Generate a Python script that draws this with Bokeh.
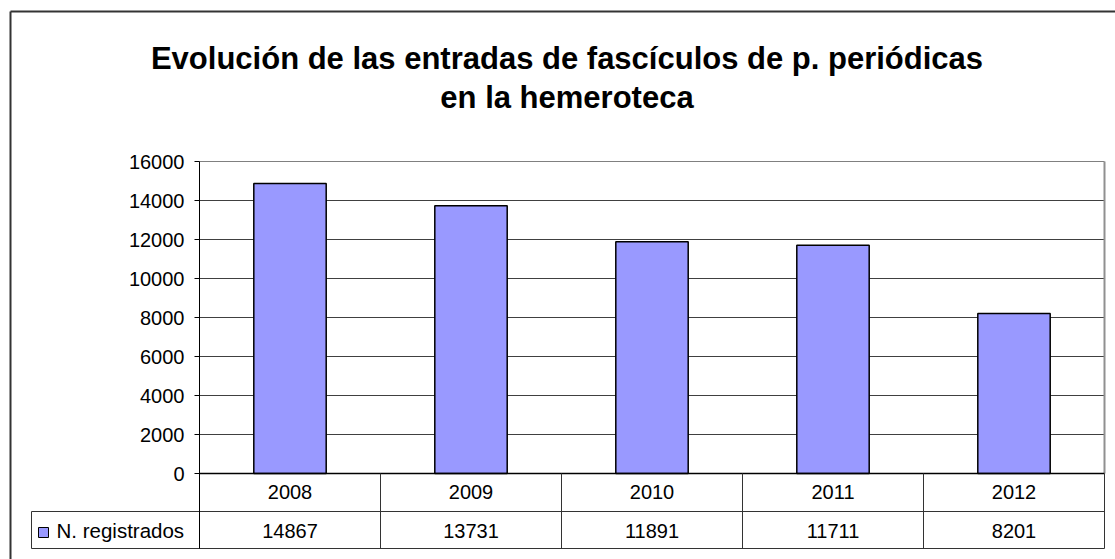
from bokeh.plotting import figure
from bokeh.models import Range1d, LinearAxis, FixedTicker
from bokeh.core.properties import value
from bokeh.embed import file_html
from bokeh.resources import INLINE

# ---- data ----
years = ["2008", "2009", "2010", "2011", "2012"]
registrados = [14867, 13731, 11891, 11711, 8201]
series_name = "N. registrados"
y_ticks = [0, 2000, 4000, 6000, 8000, 10000, 12000, 14000, 16000]
title_lines = ["Evolución de las entradas de fascículos de p. periódicas", "en la hemeroteca"]

# ---- layout constants (page pixels) ----
W, H = 1115, 559
ORIGIN = 0
PLOT_L, PLOT_R = 199, 1104
PLOT_T, ZERO_Y = 161, 473
Y_MAX = 16000
PX_PER_UNIT = (ZERO_Y - PLOT_T) / Y_MAX
CAT_W = (PLOT_R - PLOT_L) / len(years)

def xd(px):
    return (px - PLOT_L) / CAT_W

def yd(py):
    return (ZERO_Y - py) / PX_PER_UNIT

FONT = "Liberation Sans"
BAR_COLOR = "#9999FF"
TXT = "20px"

p = figure(width=W, height=H, output_backend="svg", toolbar_location=None,
           x_range=Range1d(xd(ORIGIN), xd(ORIGIN + W)),
           y_range=Range1d(yd(ORIGIN + H), yd(ORIGIN)),
           x_axis_type=None, y_axis_type=None, min_border=0)
p.outline_line_color = None
p.background_fill_color = "white"
p.border_fill_color = "white"

ncat = len(years)
xs = [i + 0.5 for i in range(ncat)]

# gridlines (excluding 0 and top)
grid_vals = y_ticks[1:-1]
p.segment(x0=[0] * len(grid_vals), x1=[ncat] * len(grid_vals), y0=grid_vals, y1=grid_vals,
          line_color="#404040", line_width=1)
# plot area top and right border
p.segment(x0=[0], x1=[ncat], y0=[Y_MAX], y1=[Y_MAX], line_color="#808080", line_width=1)
p.segment(x0=[ncat], x1=[ncat], y0=[0], y1=[Y_MAX], line_color="#909090", line_width=2)

# bars
p.vbar(x=xs, top=registrados, bottom=0, width=0.4, fill_color=BAR_COLOR,
       line_color="black", line_width=1.5)

# table lines
tb_row = yd(511)
tb_bot = yd(548)
leg_l = xd(31)
p.segment(x0=[0], x1=[ncat], y0=[0], y1=[0], line_color="black", line_width=1.5)
p.segment(x0=[leg_l, leg_l], x1=[ncat, ncat], y0=[tb_row, tb_bot], y1=[tb_row, tb_bot],
          line_color="#333333", line_width=1)
p.segment(x0=list(range(1, ncat + 1)), x1=list(range(1, ncat + 1)),
          y0=[0] * ncat, y1=[tb_bot] * ncat, line_color="#333333", line_width=1)
p.segment(x0=[leg_l], x1=[leg_l], y0=[tb_row], y1=[tb_bot], line_color="#333333", line_width=1)

# table text
p.text(x=xs, y=[yd(491)] * ncat, text=years, text_align="center", text_baseline="middle",
       text_font=value(FONT), text_font_size=TXT, text_color="black")
p.text(x=xs, y=[yd(530)] * ncat, text=[str(v) for v in registrados], text_align="center",
       text_baseline="middle", text_font=value(FONT), text_font_size=TXT, text_color="black")

# legend key in the table
p.quad(left=[xd(38)], right=[xd(48)], top=[yd(527)], bottom=[yd(537)],
       fill_color=BAR_COLOR, line_color="black", line_width=1)
p.text(x=[xd(56)], y=[yd(530)], text=[series_name], text_align="left", text_baseline="middle",
       text_font=value(FONT), text_font_size="20.5px", text_color="black")

# title
p.text(x=[xd(566.5), xd(566.5)], y=[yd(58), yd(97)], text=title_lines, text_align="center",
       text_baseline="alphabetic", text_font=value(FONT), text_font_size="31px",
       text_font_style="bold", text_color="black")

# outer chart border (top and left visible)
p.segment(x0=[xd(10), xd(10)], x1=[xd(ORIGIN + W + 5), xd(10)],
          y0=[yd(11), yd(11)], y1=[yd(11), yd(ORIGIN + H + 5)],
          line_color="#333333", line_width=2)

# y axis at x=0
yaxis = LinearAxis(fixed_location=0, ticker=FixedTicker(ticks=y_ticks),
                   bounds=(tb_bot, Y_MAX))
yaxis.axis_line_color = "black"
yaxis.axis_line_width = 1
yaxis.major_tick_out = 5
yaxis.major_tick_in = 0
yaxis.major_tick_line_color = "black"
yaxis.minor_tick_line_color = None
yaxis.major_label_standoff = 10
yaxis.major_label_text_font = FONT
yaxis.major_label_text_font_size = TXT
yaxis.major_label_text_color = "black"
p.add_layout(yaxis, "left")

open("out.html", "w").write(file_html(p, INLINE))
